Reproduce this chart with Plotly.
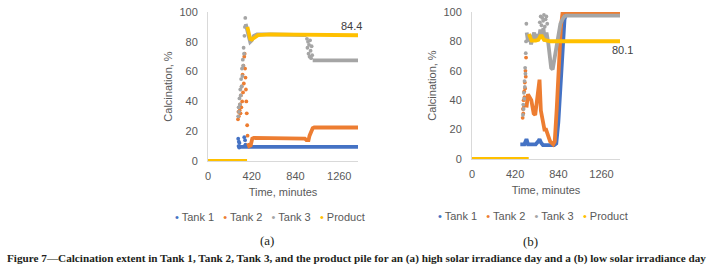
import plotly.graph_objects as go

# ---------------- data (minutes, calcination %) ----------------
TICKS_X = [0, 420, 840, 1260]
TICKS_Y = [0, 20, 40, 60, 80, 100]
SERIES = ["Tank 1", "Tank 2", "Tank 3", "Product"]

# Panel (a): high solar irradiance day
A_T1_LINE_T = [300, 1440]
A_T1_LINE_V = [9.5, 9.5]
A_T1_DOT_T = [290, 293, 296, 299, 302, 348, 352, 356, 360]
A_T1_DOT_V = [15, 10, 13, 9, 12, 16, 10, 14, 11]

A_T2_DOT_T = [288, 292, 296, 300, 304, 308, 312, 316, 320, 324, 328, 332,
              336, 340, 344, 348, 352, 356, 360, 364, 368, 372, 376, 380]
A_T2_DOT_V = [28, 33, 30, 36, 34, 38, 32, 44, 36, 50, 40, 58,
              46, 64, 52, 70, 72, 62, 56, 48, 40, 32, 24, 17]
A_T2_LINE_T = [384, 395, 410, 425, 440, 600, 900, 930, 945, 965, 975, 990, 1005, 1020, 1440]
A_T2_LINE_V = [12, 10, 10.5, 15, 15.5, 15.5, 15.5, 15, 14, 14, 17, 19, 22, 22.5, 22.5]

A_T3_DOT_T = [290, 294, 298, 302, 306, 310, 314, 318, 322, 326, 330, 334, 338, 342, 346, 350, 354, 358,
              950, 955, 960, 965, 970, 975, 980, 985, 990, 995, 1000]
A_T3_DOT_V = [30, 36, 33, 42, 38, 48, 44, 55, 50, 62, 57, 68, 64, 76, 72, 84, 90, 96,
              82, 76, 80, 72, 78, 70, 81, 74, 69, 77, 71]
A_T3_LINE_T = [362, 375, 390, 405, 420, 440, 470, 600, 900, 945, None, 1005, 1440]
A_T3_LINE_V = [92, 87, 84, 80, 81, 84, 85, 85, 85, 84.5, None, 67.5, 67.5]

A_PR_T = [0, 375, None, 378, 390, 405, 420, 445, 480, 600, 900, 1000, 1440]
A_PR_V = [0, 0, None, 90, 86, 82, 81.5, 83, 84.5, 85, 85, 84.4, 84.4]

# Panel (b): low solar irradiance day
B_T1_LINE_T = [470, 490, 510, 530, 545, 570, 620, 645, 657, 672, 690, 800, 820, 840, 860, 880, 900, 920, 1440]
B_T1_LINE_V = [10, 10, 10, 13.5, 10, 10, 10, 12, 13.5, 11, 9.5, 9.5, 10.5, 25, 52, 78, 95, 99.5, 99.5]

B_T2_DOT_T = [493, 496, 499, 502, 505, 508, 511, 514, 517, 520, 523, 526]
B_T2_DOT_V = [28, 34, 31, 40, 36, 46, 42, 52, 48, 60, 56, 69]
B_T2_LINE_T = [530, 545, 577, 600, 615, 630, 645, 657, 670, 689, 705, 721, 738, 760, 790,
               805, 825, 845, 865, 882, 1440]
B_T2_LINE_V = [35, 44, 40, 31, 30, 38, 50, 54, 33, 25, 20, 20, 16, 12, 10,
               12, 35, 65, 90, 100, 100]

B_T3_DOT_T = [496, 499, 502, 505, 508, 511, 514, 517, 520, 523, 526, 529,
              660, 668, 676, 684, 692, 700, 708, 716, 724, 732]
B_T3_DOT_V = [30, 37, 34, 45, 41, 53, 49, 62, 58, 72, 80, 92,
              93, 97, 91, 96, 94, 98, 90, 95, 97, 92]
B_T3_LINE_T = [532, 545, 560, 575, 590, 605, 620, 635, 650, 665, 680, 695, 710, 725, 740,
               755, 770, 785, 800, 820, 840, 860, 880, 900, 920, 1440]
B_T3_LINE_V = [86, 80, 84, 78, 83, 86, 80, 85, 82, 88, 84, 89, 80, 86, 80,
               70, 62, 61, 68, 76, 85, 92, 95, 97, 97.5, 97.5]

B_PR_T = [0, 552, None, 554, 565, 580, 620, 645, 665, 680, 700, 720, 760, 1440]
B_PR_V = [0, 0, None, 85, 82, 80.5, 80.5, 81, 83.5, 83.5, 81, 80.5, 80.1, 80.1]

COLORS = ["#4472C4", "#ED7D31", "#A5A5A5", "#FFC000"]

# ---------------- figure ----------------
W, H = 726, 272
fig = go.Figure()

def line(t, v, c, xa, ya):
    fig.add_trace(go.Scatter(x=t, y=v, mode="lines", line=dict(color=c, width=3.8),
                             xaxis=xa, yaxis=ya, showlegend=False, hoverinfo="skip",
                             connectgaps=False))

def dots(t, v, c, xa, ya):
    fig.add_trace(go.Scatter(x=t, y=v, mode="markers", marker=dict(color=c, size=3.8),
                             xaxis=xa, yaxis=ya, showlegend=False, hoverinfo="skip"))

# panel a
line(A_T1_LINE_T, A_T1_LINE_V, COLORS[0], "x", "y")
dots(A_T1_DOT_T, A_T1_DOT_V, COLORS[0], "x", "y")
dots(A_T2_DOT_T, A_T2_DOT_V, COLORS[1], "x", "y")
line(A_T2_LINE_T, A_T2_LINE_V, COLORS[1], "x", "y")
dots(A_T3_DOT_T, A_T3_DOT_V, COLORS[2], "x", "y")
line(A_T3_LINE_T, A_T3_LINE_V, COLORS[2], "x", "y")
line(A_PR_T, A_PR_V, COLORS[3], "x", "y")

# panel b
line(B_T1_LINE_T, B_T1_LINE_V, COLORS[0], "x2", "y2")
dots(B_T2_DOT_T, B_T2_DOT_V, COLORS[1], "x2", "y2")
line(B_T2_LINE_T, B_T2_LINE_V, COLORS[1], "x2", "y2")
dots(B_T3_DOT_T, B_T3_DOT_V, COLORS[2], "x2", "y2")
line(B_T3_LINE_T, B_T3_LINE_V, COLORS[2], "x2", "y2")
line(B_PR_T, B_PR_V, COLORS[3], "x2", "y2")

TXT = "#595959"
axis_font = dict(family="Liberation Sans, Arial, sans-serif", size=11, color=TXT)

def xaxis(dom):
    return dict(domain=dom, range=[0, 1440], tickvals=TICKS_X, showgrid=False, zeroline=False,
                showline=True, linecolor="#D9D9D9", linewidth=1, ticks="", tickfont=axis_font,
                ticklabelstandoff=5, automargin=False,
                title=dict(text="Time, minutes", font=axis_font, standoff=7), fixedrange=True)

def yaxis(dom):
    return dict(domain=dom, range=[0, 100], tickvals=TICKS_Y, showgrid=False, zeroline=False,
                showline=True, linecolor="#D9D9D9", linewidth=1, ticks="", tickfont=axis_font,
                ticklabelstandoff=7, automargin=False,
                title=dict(text="Calcination, %", font=axis_font, standoff=4), fixedrange=True)

fig.update_layout(
    template="none",
    width=W, height=H, margin=dict(l=0, r=0, t=0, b=0, pad=0, autoexpand=False),
    paper_bgcolor="white", plot_bgcolor="white", showlegend=False,
    xaxis=dict(xaxis([208 / W, 358 / W]), anchor="y"),
    yaxis=dict(yaxis([1 - 161 / H, 1 - 12 / H]), anchor="x"),
    xaxis2=dict(xaxis([472 / W, 620 / W]), anchor="y2"),
    yaxis2=dict(yaxis([1 - 159 / H, 1 - 12 / H]), anchor="x2"),
)

def legend_text():
    parts = []
    for name, c in zip(SERIES, COLORS):
        parts.append(f"<span style='color:{c}'>•</span> {name}")
    return "\u00a0\u00a0\u00a0".join(parts)

ann = []
ann.append(dict(xref="paper", yref="paper", x=269.5 / W, y=1 - 217 / H, text=legend_text(),
                showarrow=False, font=axis_font, xanchor="center", yanchor="middle"))
ann.append(dict(xref="paper", yref="paper", x=532.5 / W, y=1 - 216 / H, text=legend_text(),
                showarrow=False, font=axis_font, xanchor="center", yanchor="middle"))
serif = dict(family="Liberation Serif, Times New Roman, serif", size=13, color="#231F20")
ann.append(dict(xref="paper", yref="paper", x=267 / W, y=1 - 240 / H, text="(a)",
                showarrow=False, font=serif, xanchor="center", yanchor="middle"))
ann.append(dict(xref="paper", yref="paper", x=530 / W, y=1 - 241 / H, text="(b)",
                showarrow=False, font=serif, xanchor="center", yanchor="middle"))
ann.append(dict(xref="paper", yref="paper", x=356 / W, y=1 - 258 / H,
                text="<b>Figure 7—Calcination extent in Tank 1, Tank 2, Tank 3, and the product pile for an (a) high solar irradiance day and a (b) low solar irradiance day</b>",
                showarrow=False, font=dict(family="Liberation Serif, Times New Roman, serif", size=11.2, color="#231F20"),
                xanchor="center", yanchor="middle"))
# data labels at the last product points
lbl_font = dict(family="Liberation Sans, Arial, sans-serif", size=11, color="#404040")
ann.append(dict(xref="x", yref="y", x=A_PR_T[-1], y=A_PR_V[-1], text=f"{A_PR_V[-1]:.1f}",
                showarrow=False, font=lbl_font, xanchor="right", yanchor="bottom", xshift=6, yshift=1))
ann.append(dict(xref="x2", yref="y2", x=B_PR_T[-1], y=B_PR_V[-1], text=f"{B_PR_V[-1]:.1f}",
                showarrow=False, font=lbl_font, xanchor="left", yanchor="top", xshift=-10, yshift=-1))
fig.update_layout(annotations=ann)

fig.write_html("out.html", config={"displayModeBar": False},
               post_script="document.body.style.margin='0';document.body.style.overflow='hidden';")
